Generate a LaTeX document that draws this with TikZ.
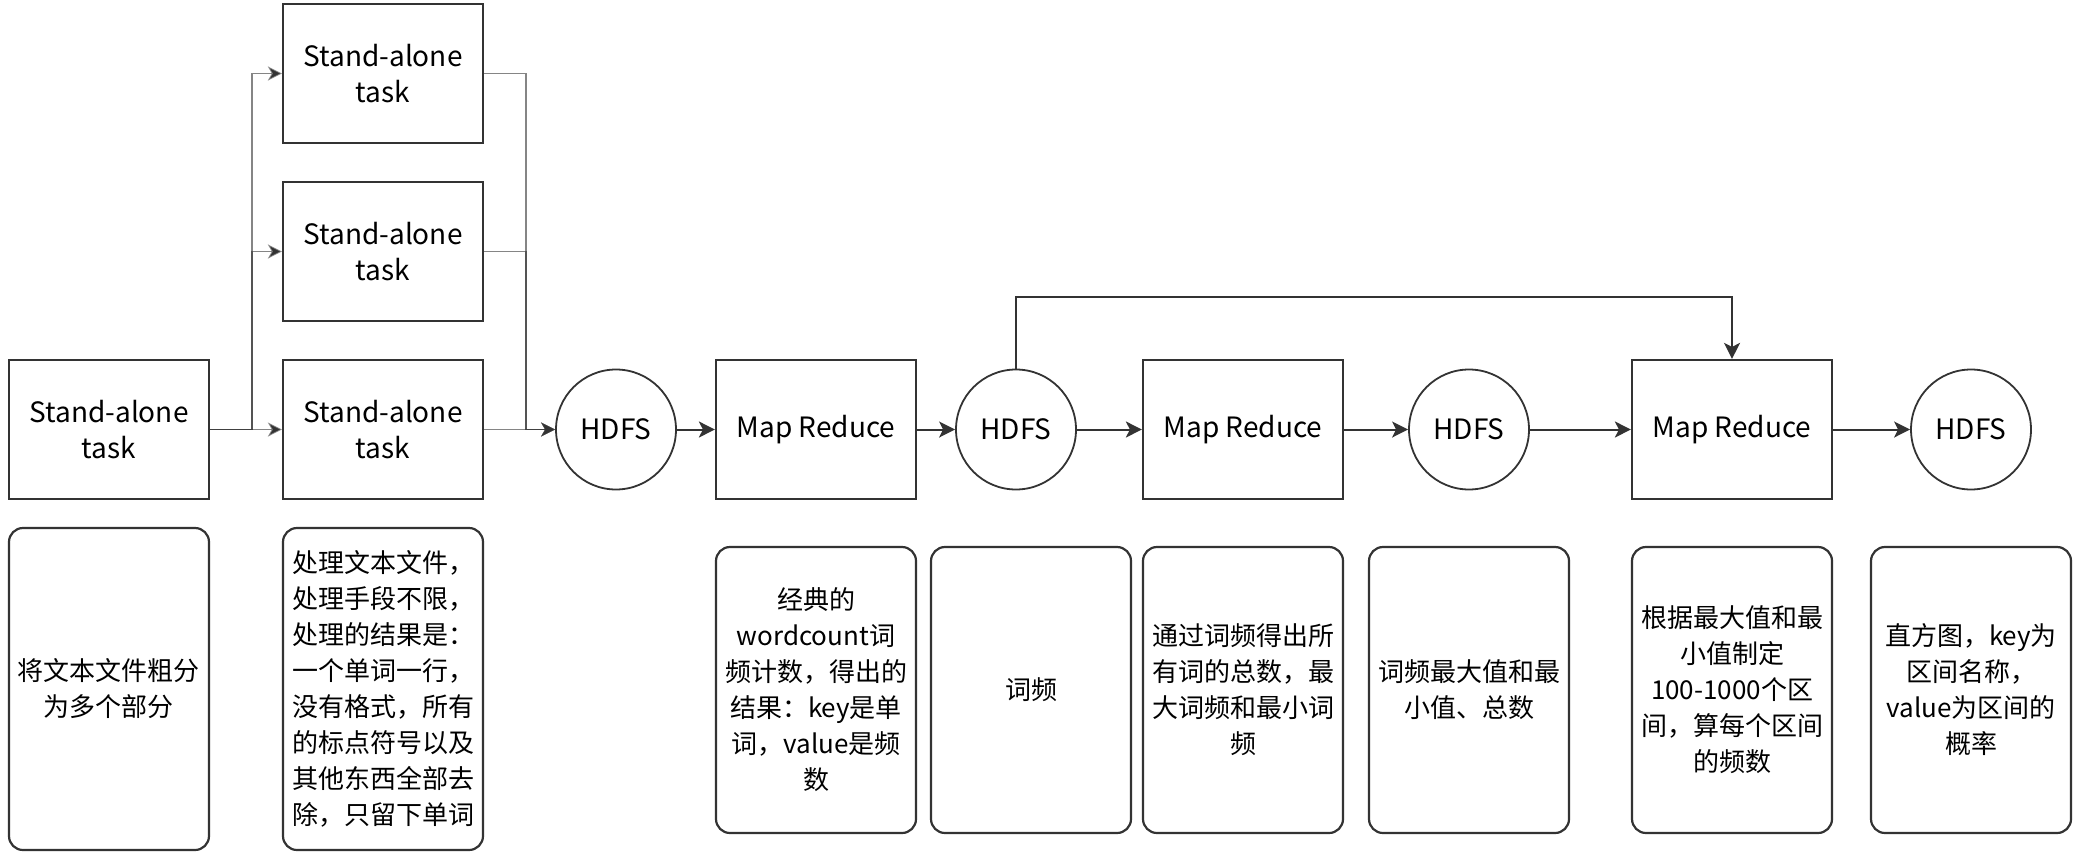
\documentclass[tikz,border=0pt]{standalone}
\usepackage{fontspec}
\setmainfont{Noto Sans CJK SC}
\usetikzlibrary{arrows.meta}
\definecolor{ink}{HTML}{333333}
\tikzset{
  x=0.5pt, y=-0.5pt,
  every node/.style={font=\fontsize{13}{18}\selectfont, text=black, align=center},
  sqbox/.style={draw=ink, line width=1.1pt, minimum width=100pt, minimum height=69.5pt, inner sep=0pt, font=\fontsize{14}{18}\selectfont},
  hdfs/.style={draw=ink, line width=0.9pt, circle, minimum size=60pt, inner sep=0pt, font=\fontsize{14}{18}\selectfont},
  note/.style={draw=ink, line width=1.1pt, rounded corners=7pt, minimum width=100pt, inner sep=0pt},
  arr/.style={draw=ink, line width=1pt, -{Stealth[length=8pt,width=8pt,inset=2pt]}},
  branch/.style={draw=ink, draw opacity=0.6, line width=0.9pt, -{Stealth[length=7pt,width=7pt,inset=2pt]}},
}
\begin{document}
\begin{tikzpicture}
\useasboundingbox (0,0) rectangle (2076,862);
% top row
\node[sqbox] (s0) at (109,429.5) {Stand-alone\\task};
\node[sqbox] (s1) at (383,73.5) {Stand-alone\\task};
\node[sqbox] (s2) at (383,251.5) {Stand-alone\\task};
\node[sqbox] (s3) at (383,429.5) {Stand-alone\\task};
\node[hdfs] (h1) at (616,429.5) {HDFS};
\node[sqbox] (m1) at (816,429.5) {Map Reduce};
\node[hdfs] (h2) at (1016,429.5) {HDFS};
\node[sqbox] (m2) at (1243,429.5) {Map Reduce};
\node[hdfs] (h3) at (1469,429.5) {HDFS};
\node[sqbox] (m3) at (1732,429.5) {Map Reduce};
\node[hdfs] (h4) at (1971,429.5) {HDFS};
\coordinate (bx) at (252,429.5);
\coordinate (mx) at (526,429.5);
\coordinate (fb) at (1374,297);
% branches
\draw[branch] (s0.east) -- (bx) |- (s1.west);
\draw[branch] (s0.east) -- (bx) |- (s2.west);
\draw[branch] (s0.east) -- (s3.west);
\draw[branch] (s1.east) -| (mx) -- (h1.west);
\draw[branch] (s2.east) -| (mx) -- (h1.west);
\draw[branch] (s3.east) -- (h1.west);
% main line
\draw[arr] (h1.east) -- (m1.west);
\draw[arr] (m1.east) -- (h2.west);
\draw[arr] (h2.east) -- (m2.west);
\draw[arr] (m2.east) -- (h3.west);
\draw[arr] (h3.east) -- (m3.west);
\draw[arr] (m3.east) -- (h4.west);
\draw[arr] (h2.north) -- (h2.north |- fb) -| (m3.north);
% notes
\node[note, minimum height=161pt] (n1) at (109,689) {将文本文件粗分\\为多个部分};
\node[note, minimum height=161pt] (n2) at (383,689) {处理文本文件，\\处理手段不限，\\处理的结果是：\\一个单词一行，\\没有格式，所有\\的标点符号以及\\其他东西全部去\\除，只留下单词};
\node[note, minimum height=143pt] (n3) at (816,690) {经典的\\wordcount词\\频计数，得出的\\结果：key是单\\词，value是频\\数};
\node[note, minimum height=143pt] (n4) at (1031,690) {词频};
\node[note, minimum height=143pt] (n5) at (1243,690) {通过词频得出所\\有词的总数，最\\大词频和最小词\\频};
\node[note, minimum height=143pt] (n6) at (1469,690) {词频最大值和最\\小值、总数};
\node[note, minimum height=143pt] (n7) at (1732,690) {根据最大值和最\\小值制定\\100-1000个区\\间，算每个区间\\的频数};
\node[note, minimum height=143pt] (n8) at (1971,690) {直方图，key为\\区间名称，\\value为区间的\\概率};
\end{tikzpicture}
\end{document}
